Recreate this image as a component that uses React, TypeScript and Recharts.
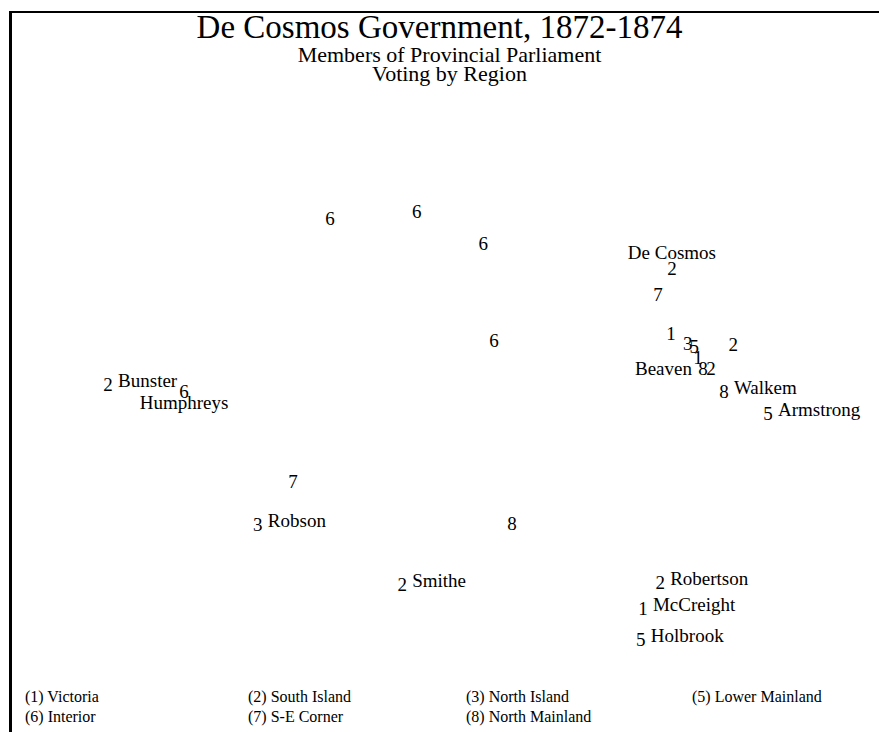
import React from 'react';
import { ScatterChart, Scatter, XAxis, YAxis } from 'recharts';

// MDS-style coordinates, one entry per member
const dimX = [
  -0.261, -0.054, 0.104, 0.554, 0.521, 0.552, 0.592, 0.607, 0.7, 0.13, 0.616, 0.628,
  0.647, 0.678, 0.783, -0.79, -0.609, -0.349, -0.433, 0.173, -0.089, 0.526, 0.485, 0.48,
];
const dimY = [
  0.561, 0.587, 0.469, 0.38, 0.284, 0.14, 0.103, 0.092, 0.096, 0.111, 0.048, 0.011,
  0.011, -0.077, -0.155, -0.048, -0.077, -0.406, -0.565, -0.561, -0.786, -0.782, -0.878, -0.989,
];
const regionCodes = [6, 6, 6, 2, 7, 1, 3, 5, 2, 6, 1, 8, 2, 8, 5, 2, 6, 7, 3, 8, 2, 2, 1, 5];
const memberNames = [
  '', '', '', 'De Cosmos', '', '', '', '', '', '', '', 'Beaven',
  '', 'Walkem', 'Armstrong', 'Bunster', 'Humphreys', '', 'Robson', '', 'Smithe', 'Robertson', 'McCreight', 'Holbrook',
];

const legendItems = [
  '(1) Victoria', '(2) South Island', '(3) North Island', '(5) Lower Mainland',
  '(6) Interior', '(7) S-E Corner', '(8) North Mainland',
];

const data = dimX.map((x, i) => ({
  x,
  y: dimY[i],
  region: regionCodes[i],
  name: memberNames[i],
}));

const FONT = '"Liberation Serif", "Times New Roman", serif';
const labelSide: Record<string, 'top' | 'bottom' | 'left' | 'right'> = {
  'De Cosmos': 'top',
  Humphreys: 'bottom',
  Beaven: 'left',
};

const MemberMark = (props: any) => {
  const { cx, cy, payload } = props;
  if (cx == null || cy == null) return null;
  const base = cy + 6.5;
  const side = labelSide[payload.name] || 'right';
  let nameEl = null;
  if (payload.name) {
    let nx = cx + 10;
    let ny = base - 4;
    let anchor: 'start' | 'middle' | 'end' = 'start';
    if (side === 'top') {
      nx = cx;
      ny = base - 16;
      anchor = 'middle';
    } else if (side === 'bottom') {
      nx = cx;
      ny = base + 11;
      anchor = 'middle';
    } else if (side === 'left') {
      nx = cx - 11;
      ny = base;
      anchor = 'end';
    }
    nameEl = (
      <text x={nx} y={ny} textAnchor={anchor} fontSize={19} fontFamily={FONT} fill="#000">
        {payload.name}
      </text>
    );
  }
  return (
    <g>
      <text x={cx} y={base} textAnchor="middle" fontSize={19} fontFamily={FONT} fill="#000">
        {payload.region}
      </text>
      {nameEl}
    </g>
  );
};

export default function App() {
  const legendCols = [25, 248, 466, 692];
  return (
    <div style={{ position: 'relative', width: 879, height: 732, background: '#fff', fontFamily: FONT }}>
      <style>{`body{margin:0}`}</style>
      <div style={{ position: 'absolute', left: 9, top: 11, width: 870, height: 2, background: '#000' }} />
      <div style={{ position: 'absolute', left: 9, top: 11, width: 3, height: 721, background: '#000' }} />
      <div style={{ position: 'absolute', left: 0, width: 879, top: 11, textAlign: 'center', fontSize: 33, lineHeight: '33px' }}>
        De Cosmos Government, 1872-1874
      </div>
      <div style={{ position: 'absolute', left: 10, width: 879, top: 44, textAlign: 'center', fontSize: 22, lineHeight: '22px' }}>
        Members of Provincial Parliament
      </div>
      <div style={{ position: 'absolute', left: 10, width: 879, top: 63, textAlign: 'center', fontSize: 22, lineHeight: '22px' }}>
        Voting by Region
      </div>
      <ScatterChart
        width={879}
        height={732}
        margin={{ top: 100, right: 20, bottom: 90, left: 20 }}
        style={{ position: 'absolute', left: 0, top: 0 }}
      >
        <XAxis type="number" dataKey="x" domain={[-1, 1]} hide />
        <YAxis type="number" dataKey="y" domain={[-1, 1]} hide />
        <Scatter data={data} shape={MemberMark} isAnimationActive={false} />
      </ScatterChart>
      {legendItems.map((item, i) => (
        <div
          key={item}
          style={{
            position: 'absolute',
            left: legendCols[i % 4],
            top: 689 + Math.floor(i / 4) * 20,
            fontSize: 16,
            lineHeight: '16px',
            whiteSpace: 'nowrap',
          }}
        >
          {item}
        </div>
      ))}
    </div>
  );
}
